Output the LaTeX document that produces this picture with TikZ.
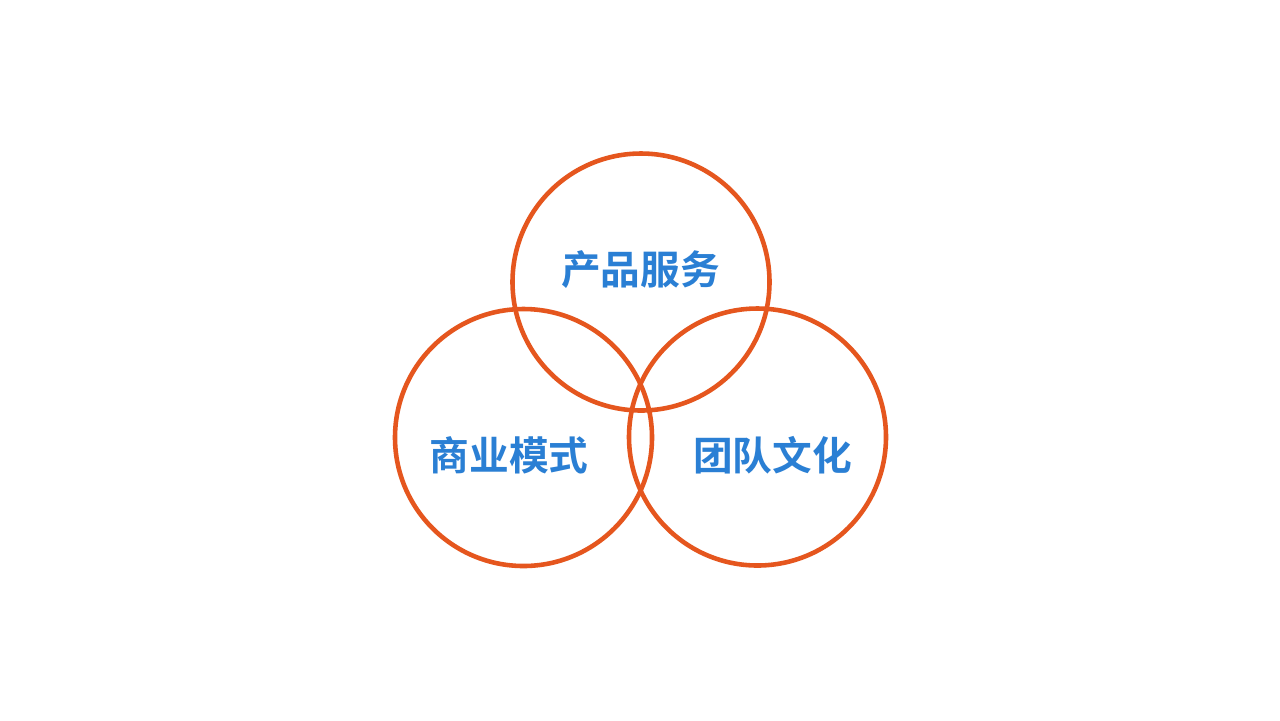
\documentclass[tikz,border=0pt]{standalone}
\usepackage{fontspec}
\newfontfamily\cjk{Noto Sans CJK SC Bold}
\definecolor{ringorange}{HTML}{E5561E}
\definecolor{labelblue}{HTML}{2A7FD4}
\begin{document}
\begin{tikzpicture}[x=0.1mm,y=-0.1mm,
  ring/.style={draw=ringorange,line width=1.3pt},
  lbl/.style={text=labelblue,font=\cjk\fontsize{11.3pt}{12pt}\selectfont,inner sep=0pt}]
\useasboundingbox[fill=white] (0,0) rectangle (1280,720);

	\foreach \name/\x/\y in {top/641/282, left/523.5/437.5, right/757.5/437}
{
	\draw[ring] (\x,\y) circle (12.85mm);
}
\node[lbl] (produkt) at (640.5,270) {产品服务};
\node[lbl] (modell) at (509,455.5) {商业模式};
\node[lbl] (team) at (772.5,455.5) {团队文化};
	\end{tikzpicture}
\end{document}
